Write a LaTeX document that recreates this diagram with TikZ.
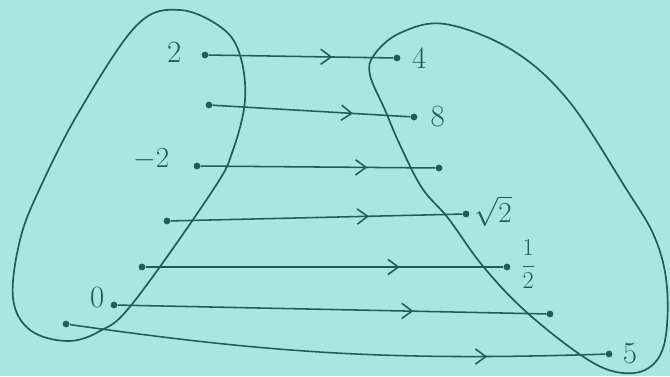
\documentclass[tikz,border=0pt]{standalone}
\usetikzlibrary{positioning, calc, arrows.meta, decorations.markings}

\definecolor{paper}{RGB}{170,230,224}
\definecolor{ink}{RGB}{32,92,88}

\begin{document}
\begin{tikzpicture}[
  x=0.025cm, y=-0.025cm,
  font=\fontsize{22}{26}\selectfont,
  dot/.style      = {circle, fill=ink, inner sep=0pt, minimum size=1.7mm},
  num/.style      = {text=ink, inner sep=1pt},
  setline/.style  = {draw=ink, line width=1.2pt},
  maparr/.style   = {draw=ink, line width=1.1pt, postaction={decorate},
                     decoration={markings, mark=at position #1 with
                       {\arrow[ink]{Straight Barb[length=2.6mm,width=3.8mm,line width=1.1pt]}}}},
]

% =============================================================
% Paper (fixes the bounding box)
% =============================================================
\fill[paper] (0,0) rectangle (670,376);

% =============================================================
% The two sets
% =============================================================
% left set (domain)
\draw[setline] plot[smooth cycle, tension=0.6] coordinates {
  (180,10) (222,28) (240,55) (245,100) (233,150) (213,190)
  (133,303) (100,331) (67,341) (30,330) (13,298) (20,240)
  (40,188) (80,110) (137,25)};
% right set (codomain)
\draw[setline] plot[smooth cycle, tension=0.6] coordinates {
  (374,55) (400,33) (445,24) (512,50) (568,100) (625,187)
  (655,238) (667,288) (664,345) (645,370) (612,371) (575,351)
  (522,308) (482,265) (448,218) (422,188) (400,145) (385,110)
  (370,75)};

% =============================================================
% Points
% =============================================================
% Source points (left)
\node[dot] (s1) at (205, 55) {};
\node[dot] (s2) at (209,105) {};
\node[dot] (s3) at (197,166) {};
\node[dot] (s4) at (167,221) {};
\node[dot] (s5) at (142,267) {};
\node[dot] (s6) at (114,305) {};
\node[dot] (s7) at ( 66,324) {};

% Target points (right)
\node[dot] (t1) at (397, 58) {};
\node[dot] (t2) at (414,117) {};
\node[dot] (t3) at (439,168) {};
\node[dot] (t4) at (466,214) {};
\node[dot] (t5) at (507,267) {};
\node[dot] (t6) at (550,314) {};
\node[dot] (t7) at (609,354) {};

% --- labels ---
\node[num, left=13pt of s1, yshift=2pt] (l1) {2};
\node[num, left=16pt of s3, yshift=5pt] (l3) {$-2$};
\node[num, left=3pt of s6, yshift=5pt]  (l6) {0};

\node[num, right=7pt of t1]              (m1) {4};
\node[num, right=8pt of t2]              (m2) {8};
\node[num, right=2pt of t4, yshift=2pt]  (m4) {$\sqrt{2}$};
\node[num, right=6pt of t5, yshift=2pt,
      font=\fontsize{18}{20}\selectfont]  (m5) {$\displaystyle\frac{1}{2}$};
\node[num, right=6pt of t7]              (m7) {5};

% =============================================================
% Mapping arrows
% =============================================================
\draw[maparr=0.67] (s1) -- (t1);
\draw[maparr=0.71] (s2) -- (t2);
\draw[maparr=0.71] (s3) -- (t3);
\draw[maparr=0.68] (s4) -- (t4);
\draw[maparr=0.71] (s5) -- (t5);
\draw[maparr=0.69] (s6) -- (t6);
\draw[maparr=0.78] (s7) to[bend right=5] (t7);

\end{tikzpicture}
\end{document}
